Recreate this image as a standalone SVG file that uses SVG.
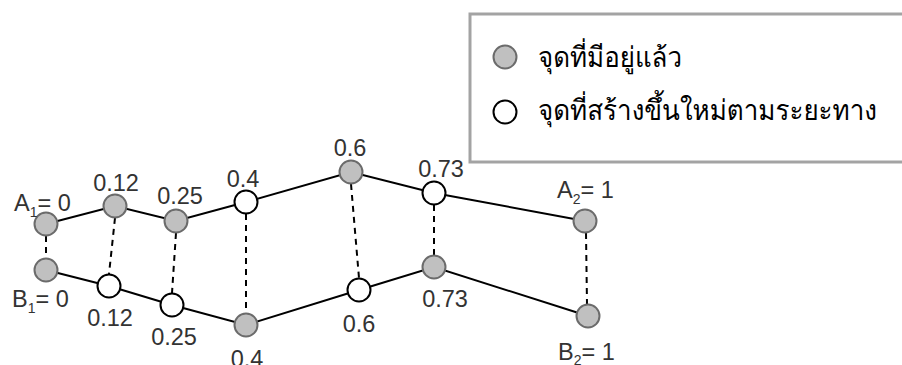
<svg xmlns="http://www.w3.org/2000/svg" width="902" height="365" viewBox="0 0 902 365">
<style>
.solid{stroke:#000;stroke-width:2;fill:none}
.dash{stroke:#000;stroke-width:2;fill:none;stroke-dasharray:6 5}
.old{fill:#c0c0c0;stroke:#6b6b6b;stroke-width:2}
.new{fill:#fff;stroke:#000;stroke-width:2}
.lbl{font-family:"Liberation Sans",Arial,sans-serif;font-size:23.5px;fill:#333}
.sub{font-size:14px}
.thai{font-family:"Norasi","Kinnari","Garuda","Loma","Noto Serif Thai","Noto Sans Thai","Liberation Serif",serif;font-size:28px;fill:#000}
</style>
<rect width="902" height="365" fill="#fff"/>
<g id="legend">
<rect x="470" y="14" width="440" height="148" fill="#fff" stroke="#a3a3a3" stroke-width="3"/>
<circle class="old" cx="505" cy="57" r="11.5"/>
<text class="thai" x="538" y="67" textLength="144" lengthAdjust="spacingAndGlyphs">จุดที่มีอยู่แล้ว</text>
<circle class="new" cx="505" cy="112" r="11.5"/>
<text class="thai" x="538" y="120" textLength="339" lengthAdjust="spacingAndGlyphs">จุดที่สร้างขึ้นใหม่ตามระยะทาง</text>
</g>
<g id="connectors">
<polyline class="solid" points="46,224 115,206 176,221 246,202 351,172 434,193 585,221"/>
<polyline class="solid" points="46,270 109,286 172,305 246,325 359,290 434,267 588,316"/>
<line class="dash" x1="46" y1="236" x2="46" y2="258"/>
<line class="dash" x1="115" y1="218" x2="109" y2="274"/>
<line class="dash" x1="176" y1="233" x2="172" y2="293"/>
<line class="dash" x1="246" y1="214" x2="246" y2="313"/>
<line class="dash" x1="351" y1="184" x2="359" y2="278"/>
<line class="dash" x1="434" y1="205" x2="434" y2="255"/>
<line class="dash" x1="586" y1="233" x2="587" y2="304"/>
</g>
<g id="A1"><circle class="old" cx="46" cy="224" r="11.5"/><text class="lbl" x="14" y="211">A<tspan class="sub" dy="6">1</tspan><tspan dy="-6">= 0</tspan></text></g>
<g id="A012"><circle class="old" cx="115" cy="206" r="11.5"/><text class="lbl" x="116" y="191" text-anchor="middle">0.12</text></g>
<g id="A025"><circle class="old" cx="176" cy="221" r="11.5"/><text class="lbl" x="180" y="204" text-anchor="middle">0.25</text></g>
<g id="A04"><circle class="new" cx="246" cy="202" r="11.5"/><text class="lbl" x="243" y="187" text-anchor="middle">0.4</text></g>
<g id="A06"><circle class="old" cx="351" cy="172" r="11.5"/><text class="lbl" x="350" y="156" text-anchor="middle">0.6</text></g>
<g id="A073"><circle class="new" cx="434" cy="193" r="11.5"/><text class="lbl" x="441" y="177" text-anchor="middle">0.73</text></g>
<g id="A2"><circle class="old" cx="585" cy="221" r="11.5"/><text class="lbl" x="557" y="198">A<tspan class="sub" dy="6">2</tspan><tspan dy="-6">= 1</tspan></text></g>
<g id="B1"><circle class="old" cx="46" cy="270" r="11.5"/><text class="lbl" x="12" y="307">B<tspan class="sub" dy="6">1</tspan><tspan dy="-6">= 0</tspan></text></g>
<g id="B012"><circle class="new" cx="109" cy="286" r="11.5"/><text class="lbl" x="110" y="326" text-anchor="middle">0.12</text></g>
<g id="B025"><circle class="new" cx="172" cy="305" r="11.5"/><text class="lbl" x="174" y="345" text-anchor="middle">0.25</text></g>
<g id="B04"><circle class="old" cx="246" cy="325" r="11.5"/><text class="lbl" x="247" y="367" text-anchor="middle">0.4</text></g>
<g id="B06"><circle class="new" cx="359" cy="290" r="11.5"/><text class="lbl" x="359" y="332" text-anchor="middle">0.6</text></g>
<g id="B073"><circle class="old" cx="434" cy="267" r="11.5"/><text class="lbl" x="445" y="307" text-anchor="middle">0.73</text></g>
<g id="B2"><circle class="old" cx="588" cy="316" r="11.5"/><text class="lbl" x="558" y="360">B<tspan class="sub" dy="5">2</tspan><tspan dy="-5">= 1</tspan></text></g>
</svg>
